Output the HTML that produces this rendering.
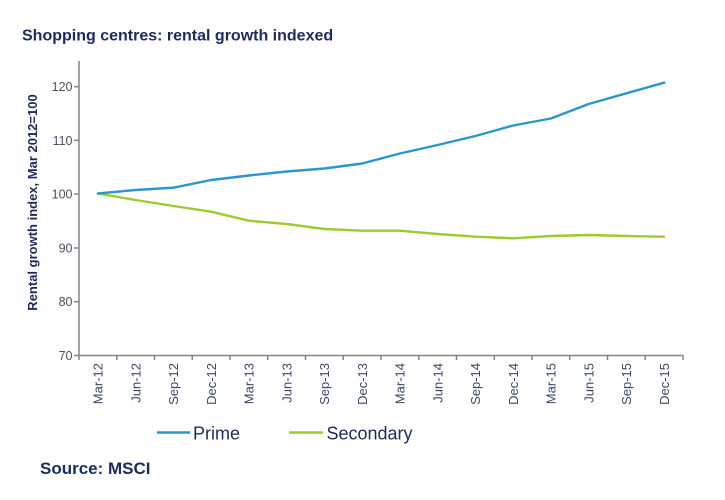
<!DOCTYPE html>
<html>
<head>
<meta charset="utf-8">
<style>
  html,body{margin:0;padding:0;background:#fff;}
  svg{display:block;}
  text{font-family:"Liberation Sans", Arial, sans-serif;}
</style>
</head>
<body>
<svg width="725" height="500" viewBox="0 0 725 500" xmlns="http://www.w3.org/2000/svg">
  <rect width="725" height="500" fill="#fff"/>
  <!-- Title -->
  <text x="22" y="40.5" font-size="16" font-weight="bold" fill="#1c2b5c">Shopping centres: rental growth indexed</text>

  <!-- Y axis label -->
  <text transform="translate(37,202.5) rotate(-90)" text-anchor="middle" font-size="13" font-weight="bold" fill="#1c2b5c">Rental growth index, Mar 2012=100</text>

  <!-- Axes -->
  <g stroke="#858585" stroke-width="1.5" fill="none">
    <line x1="79" y1="61" x2="79" y2="355.5"/>
    <line x1="78.5" y1="355.5" x2="683" y2="355.5"/>
    <!-- y ticks -->
    <line x1="74" y1="355.5" x2="79" y2="355.5"/>
    <line x1="74" y1="301.7" x2="79" y2="301.7"/>
    <line x1="74" y1="248" x2="79" y2="248"/>
    <line x1="74" y1="194" x2="79" y2="194"/>
    <line x1="74" y1="140.3" x2="79" y2="140.3"/>
    <line x1="74" y1="86.7" x2="79" y2="86.7"/>
    <!-- x ticks -->
    <line x1="79" y1="355" x2="79" y2="360"/>
    <line x1="116.75" y1="355" x2="116.75" y2="360"/>
    <line x1="154.5" y1="355" x2="154.5" y2="360"/>
    <line x1="192.25" y1="355" x2="192.25" y2="360"/>
    <line x1="230" y1="355" x2="230" y2="360"/>
    <line x1="267.75" y1="355" x2="267.75" y2="360"/>
    <line x1="305.5" y1="355" x2="305.5" y2="360"/>
    <line x1="343.25" y1="355" x2="343.25" y2="360"/>
    <line x1="381" y1="355" x2="381" y2="360"/>
    <line x1="418.75" y1="355" x2="418.75" y2="360"/>
    <line x1="456.5" y1="355" x2="456.5" y2="360"/>
    <line x1="494.25" y1="355" x2="494.25" y2="360"/>
    <line x1="532" y1="355" x2="532" y2="360"/>
    <line x1="569.75" y1="355" x2="569.75" y2="360"/>
    <line x1="607.5" y1="355" x2="607.5" y2="360"/>
    <line x1="645.25" y1="355" x2="645.25" y2="360"/>
    <line x1="683" y1="355" x2="683" y2="360"/>
  </g>

  <!-- Y tick labels -->
  <g font-size="12.5" fill="#4a5266" text-anchor="end">
    <text x="72.5" y="360">70</text>
    <text x="72.5" y="306.2">80</text>
    <text x="72.5" y="252.5">90</text>
    <text x="72.5" y="198.5">100</text>
    <text x="72.5" y="144.8">110</text>
    <text x="72.5" y="91.2">120</text>
  </g>

  <!-- X tick labels -->
  <g font-size="13" fill="#3d4866" text-anchor="end">
    <text transform="translate(102.5,363) rotate(-90)">Mar-12</text>
    <text transform="translate(140.25,363) rotate(-90)">Jun-12</text>
    <text transform="translate(178,363) rotate(-90)">Sep-12</text>
    <text transform="translate(215.75,363) rotate(-90)">Dec-12</text>
    <text transform="translate(253.5,363) rotate(-90)">Mar-13</text>
    <text transform="translate(291.25,363) rotate(-90)">Jun-13</text>
    <text transform="translate(329,363) rotate(-90)">Sep-13</text>
    <text transform="translate(366.75,363) rotate(-90)">Dec-13</text>
    <text transform="translate(404.5,363) rotate(-90)">Mar-14</text>
    <text transform="translate(442.25,363) rotate(-90)">Jun-14</text>
    <text transform="translate(480,363) rotate(-90)">Sep-14</text>
    <text transform="translate(517.75,363) rotate(-90)">Dec-14</text>
    <text transform="translate(555.5,363) rotate(-90)">Mar-15</text>
    <text transform="translate(593.25,363) rotate(-90)">Jun-15</text>
    <text transform="translate(631,363) rotate(-90)">Sep-15</text>
    <text transform="translate(668.75,363) rotate(-90)">Dec-15</text>
  </g>

  <!-- Series -->
  <polyline fill="none" stroke="#9ccb2e" stroke-width="2.4" stroke-linejoin="round" stroke-linecap="round"
    points="97.9,193.5 135.65,200 173.4,206 211.15,211.7 248.9,220.7 286.65,224 324.4,229 362.15,230.7 399.9,230.7 437.65,234 475.4,236.7 513.15,238.3 550.9,236 588.65,235 626.4,236 664.15,236.7"/>
  <polyline fill="none" stroke="#2b96cc" stroke-width="2.4" stroke-linejoin="round" stroke-linecap="round"
    points="97.9,193.5 135.65,190 173.4,187.7 211.15,180 248.9,175.5 286.65,171.5 324.4,168.5 362.15,163.5 399.9,153.5 437.65,145 475.4,136 513.15,125.5 550.9,118.5 588.65,104 626.4,93.3 664.15,82.7"/>

  <!-- Legend -->
  <line x1="157" y1="432.5" x2="190" y2="432.5" stroke="#2b96cc" stroke-width="2.5"/>
  <text x="193" y="439.3" font-size="18" fill="#1c2b55">Prime</text>
  <line x1="289" y1="432.5" x2="323" y2="432.5" stroke="#9ccb2e" stroke-width="2.5"/>
  <text x="326.5" y="439.3" font-size="18" fill="#1c2b55">Secondary</text>

  <!-- Source -->
  <text x="40" y="474" font-size="17" font-weight="bold" fill="#1c2b5c">Source: MSCI</text>
</svg>
</body>
</html>
